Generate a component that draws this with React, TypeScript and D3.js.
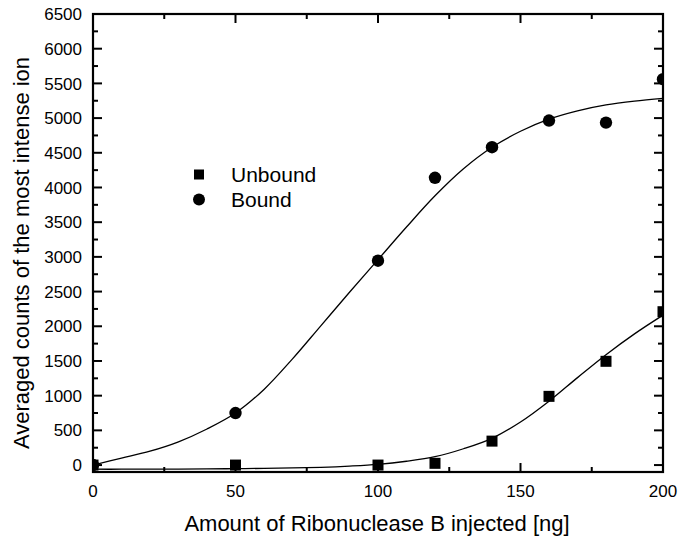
import * as d3 from "d3";

// measured points
const doses = [0, 50, 100, 120, 140, 160, 180, 200];
const unbound = [0, 0, 0, 25, 345, 990, 1495, 2210];
const bound = [0, 750, 2945, 4140, 4580, 4965, 4935, 5560];

// fitted curves, every 10 ng
const fitDoses = [0, 10, 20, 30, 40, 50, 60, 70, 80, 90, 100, 110, 120, 130, 140, 150, 160, 170, 180, 190, 200];
const unboundFit = [-60, -60, -59, -58, -56, -52, -48, -42, -32, -15, 10, 55, 120, 235, 385, 620, 920, 1260, 1590, 1890, 2160];
const boundFit = [0, 100, 200, 335, 520, 750, 1090, 1530, 2010, 2490, 2960, 3430, 3880, 4270, 4580, 4810, 4985, 5105, 5190, 5245, 5285];

const yMajor = d3.range(0, 6501, 500);
const yMinor = d3.range(250, 6500, 500);
const xMajor = [0, 50, 100, 150, 200];
const xMinor = [25, 75, 125, 175];

const FONT = "'Liberation Sans', Arial, sans-serif";

export default function App() {
  const width = 685;
  const height = 542;
  const left = 93;
  const right = 663;
  const top = 14;
  const bottom = 472;

  const x = d3.scaleLinear().domain([0, 200]).range([left, right]);
  const y = d3.scaleLinear().domain([-100, 6500]).range([bottom, top]);

  const line = d3
    .line<[number, number]>()
    .x((d) => x(d[0]))
    .y((d) => y(d[1]))
    .curve(d3.curveCatmullRom.alpha(0.5));

  const unboundPath = line(fitDoses.map((d, i) => [d, unboundFit[i]]) as [number, number][]) ?? "";
  const boundPath = line(fitDoses.map((d, i) => [d, boundFit[i]]) as [number, number][]) ?? "";

  const majorLen = 9;
  const minorLen = 5;

  return (
    <svg
      width={width}
      height={height}
      style={{ position: "absolute", left: 0, top: 0, background: "#fff" }}
      fontFamily={FONT}
    >
      <defs>
        <clipPath id="plot-clip">
          <rect x={left} y={top} width={right - left} height={bottom - top} />
        </clipPath>
      </defs>

      {/* fit curves and markers */}
      <g clipPath="url(#plot-clip)">
        <path d={unboundPath} fill="none" stroke="#000" strokeWidth={1.3} />
        <path d={boundPath} fill="none" stroke="#000" strokeWidth={1.3} />
        {doses.map((d, i) => (
          <rect key={"u" + d} x={x(d) - 5.5} y={y(unbound[i]) - 5.5} width={11} height={11} fill="#000" />
        ))}
        {doses.map((d, i) => (
          <circle key={"b" + d} cx={x(d)} cy={y(bound[i])} r={6.2} fill="#000" />
        ))}
      </g>

      {/* frame */}
      <rect x={left} y={top} width={right - left} height={bottom - top} fill="none" stroke="#000" strokeWidth={2.2} />

      {/* y ticks, left and right, pointing inward */}
      {yMajor.map((v) => (
        <g key={"ym" + v}>
          <line x1={left} x2={left + majorLen} y1={y(v)} y2={y(v)} stroke="#000" strokeWidth={2} />
          <line x1={right} x2={right - majorLen} y1={y(v)} y2={y(v)} stroke="#000" strokeWidth={2} />
          <text x={82} y={y(v)} dy="0.36em" textAnchor="end" fontSize={17}>
            {v}
          </text>
        </g>
      ))}
      {yMinor.map((v) => (
        <g key={"yn" + v}>
          <line x1={left} x2={left + minorLen} y1={y(v)} y2={y(v)} stroke="#000" strokeWidth={2} />
          <line x1={right} x2={right - minorLen} y1={y(v)} y2={y(v)} stroke="#000" strokeWidth={2} />
        </g>
      ))}

      {/* x ticks, bottom and top */}
      {xMajor.map((v) => (
        <g key={"xm" + v}>
          <line x1={x(v)} x2={x(v)} y1={bottom} y2={bottom - majorLen} stroke="#000" strokeWidth={2} />
          <line x1={x(v)} x2={x(v)} y1={top} y2={top + majorLen} stroke="#000" strokeWidth={2} />
          <text x={x(v)} y={497} textAnchor="middle" fontSize={17}>
            {v}
          </text>
        </g>
      ))}
      {xMinor.map((v) => (
        <g key={"xn" + v}>
          <line x1={x(v)} x2={x(v)} y1={bottom} y2={bottom - minorLen} stroke="#000" strokeWidth={2} />
          <line x1={x(v)} x2={x(v)} y1={top} y2={top + minorLen} stroke="#000" strokeWidth={2} />
        </g>
      ))}

      {/* axis titles */}
      <text x={377} y={531} textAnchor="middle" fontSize={22}>
        Amount of Ribonuclease B injected [ng]
      </text>
      <text transform="translate(29, 253) rotate(-90)" textAnchor="middle" fontSize={22}>
        Averaged counts of the most intense ion
      </text>

      {/* legend */}
      <rect x={194} y={169.5} width={10} height={10} fill="#000" />
      <text x={231} y={182} fontSize={21}>
        Unbound
      </text>
      <circle cx={199} cy={199.5} r={6} fill="#000" />
      <text x={231} y={207} fontSize={21}>
        Bound
      </text>
    </svg>
  );
}
